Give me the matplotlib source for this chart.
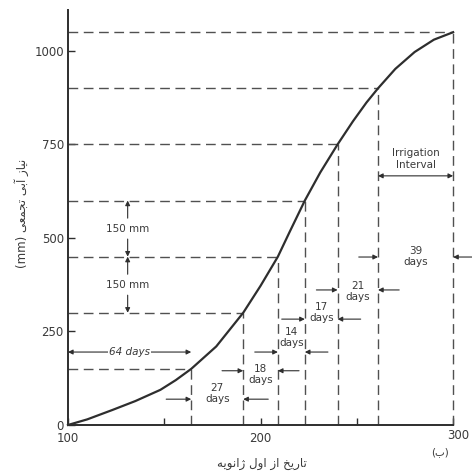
import matplotlib
matplotlib.use("Agg")
import matplotlib.pyplot as plt
import matplotlib.transforms as mtransforms

# DATA
# cumulative water requirement curve (day of year, mm)
curve_day = [100, 110, 123, 135, 148, 156, 164, 177, 191, 200, 209, 215, 223,
             231, 240, 248, 255, 261, 270, 280, 290, 300]
curve_mm = [0, 15, 40, 64, 94, 120, 150, 210, 300, 372, 450, 515, 600,
            675, 750, 812, 862, 900, 952, 997, 1030, 1050]

# irrigation dates and depths (every 150 mm)
irr_days = [100, 164, 191, 209, 223, 240, 261, 300]
irr_depth = [0, 150, 300, 450, 600, 750, 900, 1050]
interval_days = [64, 27, 18, 14, 17, 21, 39]
depth_step = 150

x_ticks = [100, 200, 300]
y_ticks = [0, 250, 500, 750, 1000]

x_label_fa = "تاریخ از اول ژانویه"
y_label_fa = "نیاز آبی تجمعی"
panel_fa = "ب"

# ---- small Persian shaper (matplotlib has no arabic shaping / bidi) ----
FORMS = {
    'ا': ('\uFE8D', '\uFE8E', None, None),
    'آ': ('\uFE81', '\uFE82', None, None),
    'ب': ('\uFE8F', '\uFE90', '\uFE91', '\uFE92'),
    'ت': ('\uFE95', '\uFE96', '\uFE97', '\uFE98'),
    'ج': ('\uFE9D', '\uFE9E', '\uFE9F', '\uFEA0'),
    'خ': ('\uFEA5', '\uFEA6', '\uFEA7', '\uFEA8'),
    'ر': ('\uFEAD', '\uFEAE', None, None),
    'ز': ('\uFEAF', '\uFEB0', None, None),
    'ژ': ('\uFB8A', '\uFB8B', None, None),
    'ع': ('\uFEC9', '\uFECA', '\uFECB', '\uFECC'),
    'ل': ('\uFEDD', '\uFEDE', '\uFEDF', '\uFEE0'),
    'م': ('\uFEE1', '\uFEE2', '\uFEE3', '\uFEE4'),
    'ن': ('\uFEE5', '\uFEE6', '\uFEE7', '\uFEE8'),
    'و': ('\uFEED', '\uFEEE', None, None),
    'ه': ('\uFEE9', '\uFEEA', '\uFEEB', '\uFEEC'),
    'ی': ('\uFBFC', '\uFBFD', '\uFBFE', '\uFBFF'),
}


def shape_word(w):
    out = []
    for i, ch in enumerate(w):
        if ch not in FORMS:
            out.append(ch)
            continue
        prev = w[i - 1] if i > 0 else None
        nxt = w[i + 1] if i + 1 < len(w) else None
        join_prev = prev in FORMS and FORMS[prev][2] is not None
        join_next = nxt in FORMS and FORMS[ch][2] is not None
        iso, fin, ini, med = FORMS[ch]
        if join_prev and join_next:
            out.append(med)
        elif join_prev:
            out.append(fin)
        elif join_next:
            out.append(ini)
        else:
            out.append(iso)
    return "".join(reversed(out))


def fa(text):
    return " ".join(shape_word(w) for w in reversed(text.split(" ")))


# ---- FIGURE ----
ink = "#2e2e2e"
dash_col = "#505050"
txt_col = "#3a3a3a"
dash = (0, (7, 4))

fig = plt.figure(figsize=(4.72, 4.74), dpi=100)
ax = fig.add_axes([0.144, 0.1034, 0.816, 0.876])
ax.set_xlim(100, 300)
ax.set_ylim(0, 1110)

# curve
ax.plot(curve_day, curve_mm, color=ink, lw=1.6, zorder=3, clip_on=False)

# dashed construction lines
for d, m in zip(irr_days[1:], irr_depth[1:]):
    ax.plot([100, d], [m, m], ls=dash, color=dash_col, lw=1.0, zorder=2,
            clip_on=False)
    ax.plot([d, d], [0, m], ls=dash, color=dash_col, lw=1.0, zorder=2,
            clip_on=False)

arrow_kw = dict(arrowstyle="-|>", color=ink, lw=0.8, mutation_scale=7,
                shrinkA=0, shrinkB=0)


def arrow(x0, y0, x1, y1, style=None):
    kw = dict(arrow_kw)
    if style:
        kw["arrowstyle"] = style
    ax.annotate("", xy=(x1, y1), xytext=(x0, y0), arrowprops=kw,
                annotation_clip=False)


# 64 days (first interval) : double arrow from the axis
arrow(100, 195, irr_days[1], 195, style="<|-|>")
ax.text((100 + irr_days[1]) / 2, 195, f"{interval_days[0]} days", ha="center",
        va="center", fontsize=7.5, style="italic", color=txt_col,
        bbox=dict(fc="white", ec="none", pad=1), zorder=4)

# other intervals: arrows pointing inward to the two dashed lines
# (arrow height, arrow length, text centre height)
layout = [(69, 13, 84), (145, 11, 134), (195, 12, 234), (283, 12, 300),
          (361, 11, 357), (449, 10, 450)]
for k, (ya, ln, yt) in enumerate(layout):
    a, b = irr_days[k + 1], irr_days[k + 2]
    arrow(a - ln, ya, a, ya)
    arrow(b + ln, ya, b, ya)
    ax.text((a + b) / 2, yt, f"{interval_days[k + 1]}\ndays", ha="center",
            va="center", fontsize=7.5, color=txt_col, linespacing=1.15)

# irrigation interval
arrow(irr_days[-2], 666, irr_days[-1], 666, style="<|-|>")
ax.text((irr_days[-2] + irr_days[-1]) / 2, 711, "Irrigation\nInterval",
        ha="center", va="center", fontsize=7.5, color=txt_col, linespacing=1.15)

# 150 mm depth markers
xm = 131
for top, bot in [(600, 450), (450, 300)]:
    mid = (top + bot) / 2
    ax.text(xm, mid, f"{depth_step} mm", ha="center", va="center",
            fontsize=7.5, color=txt_col)
    arrow(xm, mid + 28, xm, top)
    arrow(xm, mid - 28, xm, bot)

# axes styling
for s in ["top", "right"]:
    ax.spines[s].set_visible(False)
for s in ["left", "bottom"]:
    ax.spines[s].set_color(ink)
    ax.spines[s].set_linewidth(1.4)

ax.set_xticks(x_ticks)
ax.set_xticks([150, 250], minor=True)
ax.set_yticks(y_ticks)
ax.tick_params(axis="both", direction="in", length=5, width=1.0, color=ink,
               labelsize=8.5, labelcolor=txt_col)
ax.tick_params(axis="x", which="minor", direction="in", length=5, width=1.0,
               color=ink)
ax.tick_params(axis="x", pad=5)
ax.tick_params(axis="y", pad=3)

# the "300" label sits a little up and to the right in the original
lab300 = ax.get_xticklabels()[-1]
lab300.set_transform(lab300.get_transform() +
                     mtransforms.ScaledTranslation(4 / 72, 2 / 72,
                                                   fig.dpi_scale_trans))

# Persian labels
tx = mtransforms.blended_transform_factory(ax.transData, ax.transAxes)
ty = mtransforms.blended_transform_factory(ax.transAxes, ax.transData)
ax.text(200.5, -0.092, fa(x_label_fa), transform=tx, ha="center", va="center",
        fontsize=8.5, color=txt_col, family="DejaVu Sans")
ax.text(-0.12, 565, "(mm) " + fa(y_label_fa), transform=ty, rotation=90,
        ha="center", va="center", fontsize=8.5, color=txt_col,
        family="DejaVu Sans")
ax.text(293, -0.066, "(" + fa(panel_fa) + ")", transform=tx, ha="center",
        va="center", fontsize=7.5, color=txt_col, family="DejaVu Sans")

fig.savefig("out.png", dpi=100, facecolor="white")
